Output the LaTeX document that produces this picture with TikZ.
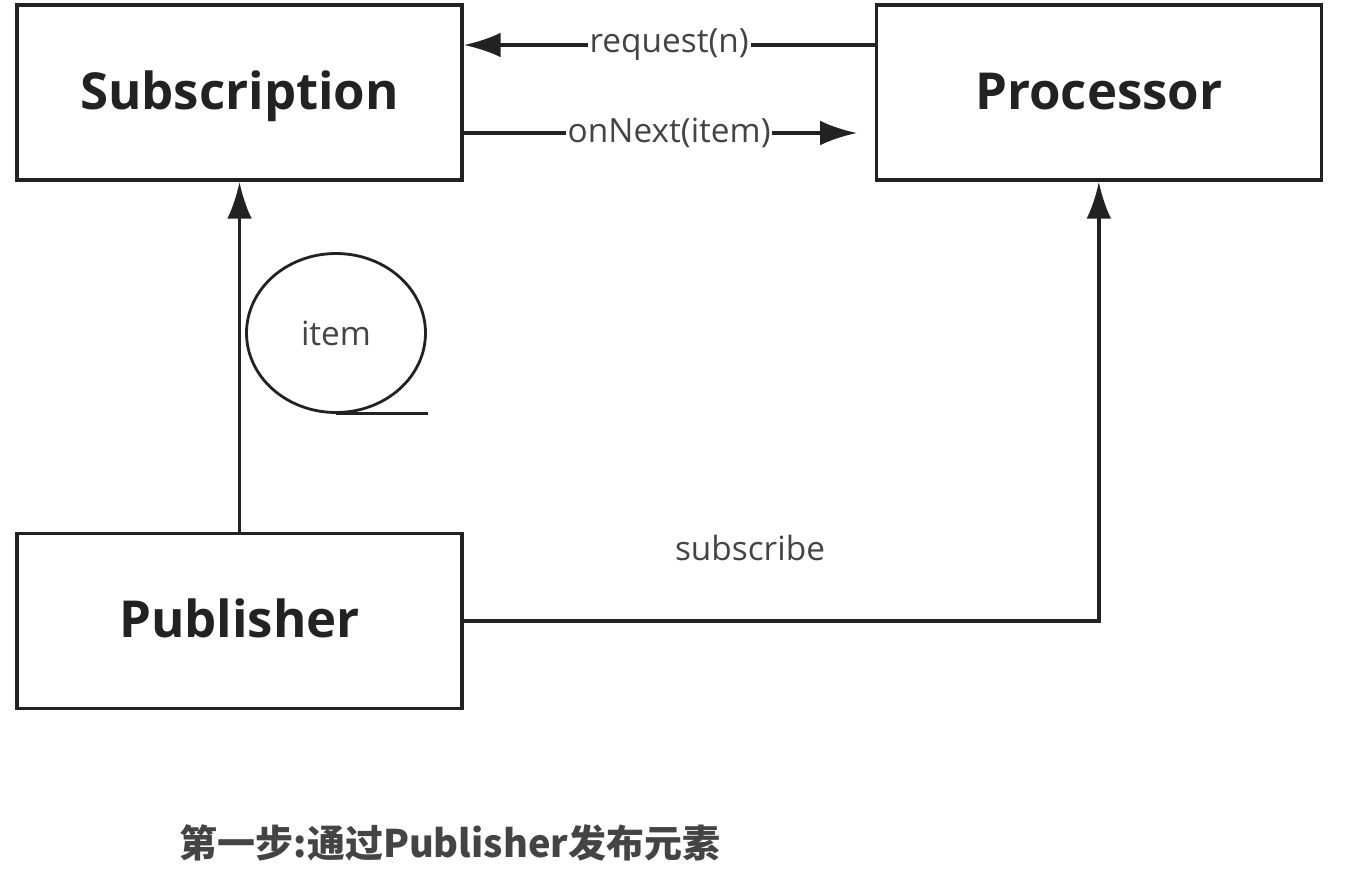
\documentclass[tikz,border=0pt]{standalone}
\usepackage{fontspec}
\setmainfont{Open Sans}
\newfontfamily\cjkfont{Noto Sans CJK SC}
\usetikzlibrary{shapes.geometric, arrows.meta, positioning}
\definecolor{linegray}{HTML}{222222}
\definecolor{textgray}{HTML}{444444}
\tikzstyle{block}=[draw=linegray,rectangle,line width=2pt,minimum width=8.9cm,
  minimum height=3.5cm,inner sep=0pt,text height=21pt,text depth=2pt,
  font=\fontsize{29}{32}\selectfont\bfseries,text=linegray]
\tikzstyle{every node}=[font=\fontsize{19}{22}\selectfont]
\tikzstyle{conn}=[draw=linegray,line width=2pt,-{Latex[length=21pt,width=14pt]}]
\tikzstyle{lbl}=[fill=white,inner sep=1pt,text=textgray]

\begin{document}
\begin{tikzpicture}[x=0.02cm,y=-0.02cm]
  \useasboundingbox (0,0) rectangle (1354,893);
  \node[block] (sub) at (239.5,92.5) {Subscription};
  \node[block, right=8.22cm of sub] (proc) {Processor};
  \node[block, below=7.0cm of sub] (pub) {Publisher};
  \node[ellipse,draw=linegray,line width=1.6pt,minimum width=3.58cm,
    minimum height=3.18cm,inner sep=0pt,text=textgray] (item) at (336,333) {item};
  \draw[draw=linegray,line width=1.6pt] (item.south) -- ++(92,0);
  \draw[conn] (proc.west |- 0,45) -- node[lbl] {request(n)} (sub.east |- 0,45);
  \draw[conn,shorten >=10pt] (sub.east |- 0,133) -- node[lbl] {onNext(item)} (proc.west |- 0,133);
  \draw[conn] (pub.north) -- (sub.south);
  \draw[conn] (pub.east) -| (proc.south);
  \node[text=textgray] (sublabel) at (750,548) {subscribe};
  \node[font=\cjkfont\fontsize{21.6}{24}\selectfont\bfseries,text=textgray] (caption) at (450,843)
    {第一步:通过Publisher发布元素};
\end{tikzpicture}
\end{document}
